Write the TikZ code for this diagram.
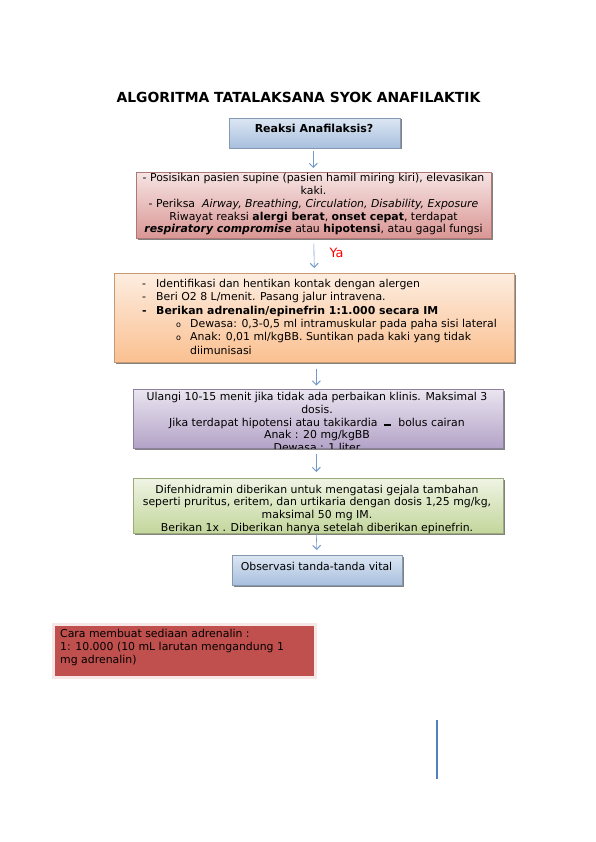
\documentclass[tikz,border=0pt]{standalone}
\usepackage{fontspec}
\setmainfont{DejaVu Sans}
\usetikzlibrary{shadows,arrows.meta}
\definecolor{arrblue}{HTML}{4F81BD}
\definecolor{bluetop}{HTML}{DCE6F2}
\definecolor{bluebot}{HTML}{A7BFDE}
\definecolor{pinktop}{HTML}{F6E4E3}
\definecolor{pinkbot}{HTML}{D99694}
\definecolor{orangetop}{HTML}{FDEDE0}
\definecolor{orangebot}{HTML}{FAC090}
\definecolor{purptop}{HTML}{EAE5F0}
\definecolor{purpbot}{HTML}{B3A2C7}
\definecolor{greentop}{HTML}{EFF4E4}
\definecolor{greenbot}{HTML}{C3D69B}
\definecolor{redbox}{HTML}{C0504D}
\definecolor{redborder}{HTML}{F6E6E5}
\definecolor{yared}{HTML}{FF0000}
\tikzset{
  box/.style={anchor=north west, inner sep=0pt, draw=#1, line width=0.6pt,
    drop shadow={shadow xshift=1.2pt, shadow yshift=-1.2pt, fill=black!70, opacity=0.7}},
  txt/.style={inner sep=0pt, font=\fontsize{10.9}{12.7}\selectfont, text=black},
  arr/.style={draw=arrblue!80, line width=0.6pt, -{Straight Barb[length=4pt,width=8pt,line width=1pt]}},
}
\begin{document}
\begin{tikzpicture}[x=1pt,y=-1pt]
\useasboundingbox[fill=white] (0,0) rectangle (595,842);

\node[inner sep=0pt, font=\fontsize{13.9}{15}\selectfont\bfseries] (title) at (298.5,97) {ALGORITMA TATALAKSANA SYOK ANAFILAKTIK};

% box 1
\node[box=bluebot!80!black, top color=bluetop, bottom color=bluebot, minimum width=171pt, minimum height=30pt] (b1) at (229,118) {};
\node[txt, font=\fontsize{11}{12.7}\selectfont\bfseries] (t1) at (314,128.5) {Reaksi Anafilaksis?};

% box 2
\node[box=pinkbot!80!black, top color=pinktop, bottom color=pinkbot, minimum width=355pt, minimum height=66pt] (b2) at (136,172) {};
\begin{scope}
\clip (b2.north west) rectangle (b2.south east);
\node[txt, anchor=north, align=center] (t2) at (313.5,173.5) {- Posisikan pasien supine (pasien hamil miring kiri), elevasikan\\ kaki.\\- Periksa \ \textit{Airway, Breathing, Circulation, Disability, Exposure}\\ Riwayat reaksi \textbf{alergi berat}, \textbf{onset cepat}, terdapat\\ \textbf{\textit{respiratory compromise}} atau \textbf{hipotensi}, atau gagal fungsi};
\end{scope}

% box 3
\node[box=orangebot!80!black, top color=orangetop, bottom color=orangebot, minimum width=400pt, minimum height=89pt] (b3) at (114,273) {};
\node[txt, anchor=north west, align=left, font=\fontsize{10.9}{13.4}\selectfont] (t3) at (139,278.8) {\makebox[17pt][l]{\hspace{3pt}-}Identifikasi dan hentikan kontak dengan alergen\\
\makebox[17pt][l]{\hspace{3pt}-}Beri O2 8 L/menit. Pasang jalur intravena.\\
\makebox[17pt][l]{\hspace{3pt}\textbf{-}}\textbf{Berikan adrenalin/epinefrin 1:1.000 secara IM}\\
\hspace{37pt}\makebox[14pt][l]{\footnotesize o}Dewasa: 0,3-0,5 ml intramuskular pada paha sisi lateral\\
\hspace{37pt}\makebox[14pt][l]{\footnotesize o}Anak: 0,01 ml/kgBB. Suntikan pada kaki yang tidak\\
\hspace{51pt}diimunisasi};

% box 4
\node[box=purpbot!80!black, top color=purptop, bottom color=purpbot, minimum width=370pt, minimum height=59pt] (b4) at (133,389) {};
\begin{scope}
\clip (b4.north west) rectangle (b4.south east);
\node[txt, anchor=north, align=center] (t4) at (317,392.3) {Ulangi 10-15 menit jika tidak ada perbaikan klinis. Maksimal 3\\ dosis.\\ Jika terdapat hipotensi atau takikardia \ \rule{7pt}{1.8pt} \ bolus cairan\\ Anak : 20 mg/kgBB\\ Dewasa : 1 liter};
\end{scope}

% box 5
\node[box=greenbot!80!black, top color=greentop, bottom color=greenbot, minimum width=370pt, minimum height=55pt] (b5) at (133,478) {};
\begin{scope}
\clip (b5.north west) rectangle (b5.south east);
\node[txt, anchor=north, align=center] (t5) at (317,484.6) {Difenhidramin diberikan untuk mengatasi gejala tambahan\\ seperti pruritus, eritem, dan urtikaria dengan dosis 1,25 mg/kg,\\ maksimal 50 mg IM.\\ Berikan 1x . Diberikan hanya setelah diberikan epinefrin.};
\end{scope}

% box 6
\node[box=bluebot!80!black, top color=bluetop, bottom color=bluebot, minimum width=170pt, minimum height=30pt] (b6) at (232,555) {};
\node[txt] (t6) at (316.5,566) {Observasi tanda-tanda vital};

% box 7
\node[box=redborder, fill=redbox, line width=3pt, minimum width=262pt, minimum height=53pt] (b7) at (51.5,622.5) {};
\begin{scope}
\clip ([shift={(1.5pt,-1.5pt)}]b7.north west) rectangle ([shift={(-1.5pt,1.5pt)}]b7.south east);
\node[txt, anchor=north west, align=left, font=\fontsize{10.9}{13}\selectfont] (t7) at (60,629.2) {Cara membuat sediaan adrenalin :\\ 1: 10.000 (10 mL larutan mengandung 1\\ mg adrenalin)};
\end{scope}

% connectors
\draw[arr] ([xshift=-1.5pt,yshift=-2pt]b1.south) -- ([xshift=-0.5pt,yshift=4pt]b2.north);
\draw[arr] ([yshift=-5pt]b2.south) -- ([yshift=5pt]b3.north);
\node[inner sep=0pt, font=\fontsize{12.8}{14}\selectfont, text=yared] (ya) at (336.5,253) {Ya};
\draw[arr] ([xshift=2pt,yshift=-6pt]b3.south) -- ([xshift=-2pt,yshift=3.5pt]b4.north);
\draw[arr] ([xshift=-2pt,yshift=-5pt]b4.south) -- ([xshift=-2pt,yshift=6pt]b5.north);
\draw[arr] ([xshift=-2pt]b5.south) -- ([xshift=-0.5pt,yshift=5pt]b6.north);

% vertical line
\coordinate (v1) at (437,720);
\coordinate (v2) at (437,779);
\draw[arrblue, line width=2pt] (v1) -- (v2);
\end{tikzpicture}
\end{document}
